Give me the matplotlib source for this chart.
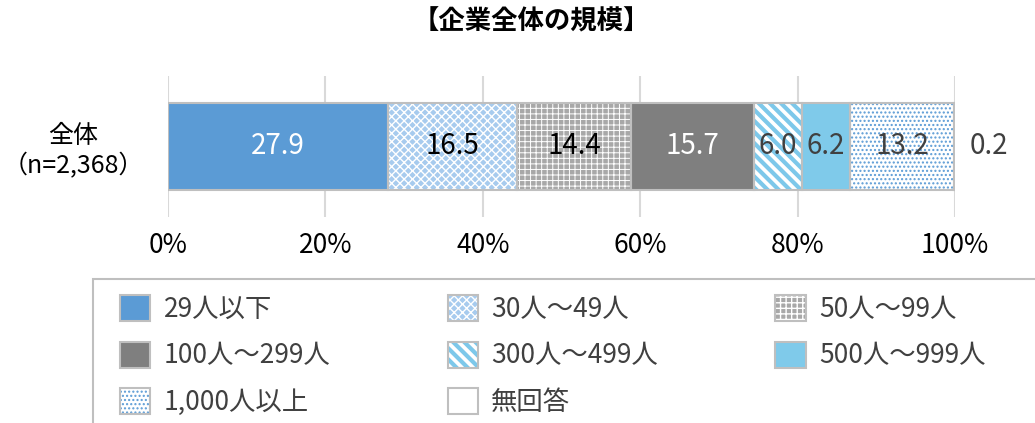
import matplotlib
matplotlib.use('Agg')
import matplotlib.pyplot as plt
from matplotlib.patches import Patch, Rectangle

plt.rcParams['font.family'] = ['Noto Sans CJK JP', 'DejaVu Sans']

categories = ['29人以下', '30人～49人', '50人～99人', '100人～299人',
              '300人～499人', '500人～999人', '1,000人以上', '無回答']
values = [27.9, 16.5, 14.4, 15.7, 6.0, 6.2, 13.2, 0.2]
row_label = '全体\n（n=2,368）'
xticks = [0, 20, 40, 60, 80, 100]
xticklabels = ['0%', '20%', '40%', '60%', '80%', '100%']

# face, hatch, hatch colour, hatch width, label colour
styles = [
    ('#5B9BD5', None, None, 1.0, 'white'),
    ('#A7CBEE', 'xxxx', 'white', 1.0, 'black'),
    ('#A8A8A8', '+++', 'white', 0.7, 'black'),
    ('#7F7F7F', None, None, 1.0, 'white'),
    ('white', '\\\\\\', '#7DC8EA', 3.0, '#404040'),
    ('#7FCAEA', None, None, 1.0, '#404040'),
    ('white', '....', '#5B9BD5', 1.0, '#404040'),
    ('white', None, None, 1.0, '#404040'),
]
edge_gray = '#BFBFBF'

fig = plt.figure(figsize=(10.35, 4.23), dpi=100)
ax = fig.add_axes([168 / 1035, 1 - 217 / 423, 787 / 1035, 141 / 423])

handles = []
left = 0
for i, (cat, v) in enumerate(zip(categories, values)):
    face, hatch, hcol, hlw, tcol = styles[i]
    plt.rcParams['hatch.linewidth'] = hlw
    ax.barh(0, v, left=left, height=0.62, color=face, hatch=hatch,
            edgecolor=hcol if hatch else face, linewidth=0, zorder=2)
    ax.barh(0, v, left=left, height=0.62, color='none',
            edgecolor=edge_gray, linewidth=1.5, zorder=3)
    h1 = Patch(facecolor=face, hatch=hatch, edgecolor=hcol if hatch else face, linewidth=0)
    h2 = Patch(facecolor='none', edgecolor=edge_gray, linewidth=1.5)
    handles.append((h1, h2))
    if v >= 1:
        ax.text(left + v / 2, 0, f'{v:.1f}', ha='center', va='center',
                fontsize=20, color=tcol, zorder=4)
    else:
        ax.text(left + v + 4.2, 0, f'{v:.1f}', ha='center', va='center',
                fontsize=20, color=tcol, zorder=4)
    left += v
plt.rcParams['hatch.linewidth'] = 1.0

ax.set_xlim(0, 100)
ax.set_ylim(-0.5, 0.5)
ax.set_xticks(xticks, xticklabels, fontsize=19)
ax.set_yticks([0], [row_label], fontsize=18, ha='center', multialignment='center')
ax.tick_params(axis='y', length=0, pad=68)
ax.tick_params(axis='x', length=0, pad=11)
ax.grid(axis='x', color='#D9D9D9', linewidth=1.5, zorder=0)
ax.set_axisbelow(True)
for s in ax.spines.values():
    s.set_visible(False)

fig.text(0.513, 1 - 22 / 423, '【企業全体の規模】', ha='center', va='center',
         fontsize=19, fontweight='bold')

# legend frame, runs off the right and bottom edge
fig.patches.append(Rectangle((93 / 1035, -0.05), 1.0, 1 - 279 / 423 + 0.05,
                             transform=fig.transFigure, facecolor='none',
                             edgecolor=edge_gray, linewidth=1.5))

order = [0, 3, 6, 1, 4, 7, 2, 5]
leg = fig.legend([handles[i] for i in order], [categories[i] for i in order],
                 ncol=3, loc='upper left', bbox_to_anchor=(120 / 1035, 1 - 295 / 423),
                 frameon=False, fontsize=19, borderpad=0, handlelength=1.15,
                 handleheight=1.15, handletextpad=0.5, columnspacing=4.45,
                 labelspacing=0.7, borderaxespad=0)
for t in leg.get_texts():
    t.set_color('#404040')
for p in leg.findobj(Patch):
    if p.get_hatch() == '\\\\\\' and hasattr(p, 'set_hatch_linewidth'):
        p.set_hatch_linewidth(3.0)

fig.savefig('out.png', dpi=100)
